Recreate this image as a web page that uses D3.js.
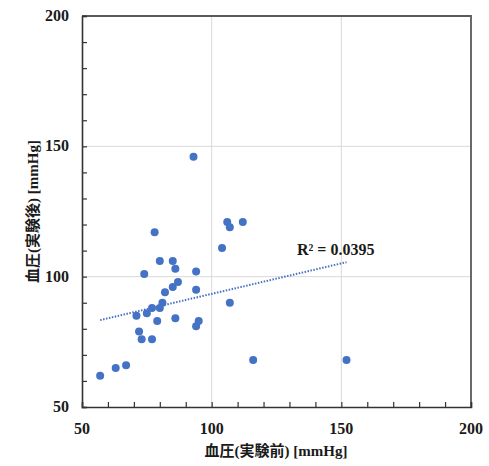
<!DOCTYPE html>
<html>
<head>
<meta charset="utf-8">
<script src="https://cdn.jsdelivr.net/npm/d3@7"></script>
<style>
  body { margin: 0; background: #fff; }
  svg { display: block; }
  .tick-label { font-family: "Liberation Serif", "DejaVu Serif", serif; font-weight: bold; font-size: 16px; fill: #1a1a1a; }
  .axis-title { font-family: "Liberation Serif", "Noto Sans CJK JP", serif; font-weight: bold; font-size: 15px; fill: #1a1a1a; }
</style>
</head>
<body>
<script>
// blood pressure before / after (mmHg)
var beforeBP = [57, 63, 67, 72, 73, 77, 71, 75, 77, 79, 80, 81, 82, 85, 87, 86, 74, 80, 85, 86,
  94, 94, 94, 95, 104, 107, 78, 93, 106, 107, 112, 116, 152];
var afterBP = [62, 65, 66, 79, 76, 76, 85, 86, 88, 83, 88, 90, 94, 96, 98, 84, 101, 106, 106, 103,
  102, 95, 81, 83, 111, 90, 117, 146, 121, 119, 121, 68, 68];

// linear trendline [slope, intercept] and its label
var trendCoef = [0.234, 70];
var trendLabel = 'R\u00B2 = 0.0395';

var axisTicks = [50, 100, 150, 200];
var minorTicks = d3.range(50, 201, 10);

var width = 489;
var height = 466;
var margin = {top: 16, right: 18, bottom: 59, left: 82};

var svg = d3.select('body').append('svg')
    .attr('width', width)
    .attr('height', height);

var x = d3.scaleLinear().domain([50, 200]).range([margin.left, width - margin.right]);
var y = d3.scaleLinear().domain([50, 200]).range([height - margin.bottom, margin.top]);

var plot = svg.append('g');

// gridlines (major only, inside the box)
plot.selectAll('line.gx').data(axisTicks.slice(1, -1)).enter().append('line')
    .attr('class', 'gx')
    .attr('x1', function(d) { return x(d); })
    .attr('x2', function(d) { return x(d); })
    .attr('y1', y(50))
    .attr('y2', y(200))
    .attr('stroke', '#d9d9d9')
    .attr('stroke-width', 1);
plot.selectAll('line.gy').data(axisTicks.slice(1, -1)).enter().append('line')
    .attr('class', 'gy')
    .attr('x1', x(50))
    .attr('x2', x(200))
    .attr('y1', function(d) { return y(d); })
    .attr('y2', function(d) { return y(d); })
    .attr('stroke', '#d9d9d9')
    .attr('stroke-width', 1);

// frame: top/right lighter, left/bottom dark
plot.append('path')
    .attr('d', 'M' + x(50) + ',' + y(200) + 'H' + x(200) + 'V' + y(50))
    .attr('fill', 'none')
    .attr('stroke', '#5a5a5a')
    .attr('stroke-width', 1.8);

// axes with inward ticks
var xAxis = d3.axisBottom(x).tickValues(minorTicks).tickSize(-5).tickFormat('');
var yAxis = d3.axisLeft(y).tickValues(minorTicks).tickSize(-5).tickFormat('');

var gx = svg.append('g').attr('transform', 'translate(0,' + y(50) + ')').call(xAxis);
var gy = svg.append('g').attr('transform', 'translate(' + x(50) + ',0)').call(yAxis);
[gx, gy].forEach(function(g) {
  g.select('.domain').attr('stroke', '#333').attr('stroke-width', 1.6);
  g.selectAll('.tick line').attr('stroke', '#333').attr('stroke-width', 1.2);
});

// tick labels
svg.selectAll('text.xl').data(axisTicks).enter().append('text')
    .attr('class', 'tick-label xl')
    .attr('x', function(d) { return x(d); })
    .attr('y', y(50) + 27)
    .attr('text-anchor', 'middle')
    .text(function(d) { return d; });
svg.selectAll('text.yl').data(axisTicks).enter().append('text')
    .attr('class', 'tick-label yl')
    .attr('x', x(50) - 13)
    .attr('y', function(d) { return y(d) + 5; })
    .attr('text-anchor', 'end')
    .text(function(d) { return d; });

// trendline over the data range
var xExt = d3.extent(beforeBP);
plot.append('line')
    .attr('x1', x(xExt[0]))
    .attr('y1', y(trendCoef[0] * xExt[0] + trendCoef[1]))
    .attr('x2', x(xExt[1]))
    .attr('y2', y(trendCoef[0] * xExt[1] + trendCoef[1]))
    .attr('stroke', '#4472c4')
    .attr('stroke-width', 2)
    .attr('stroke-dasharray', '1.5,1.5');

// points
plot.selectAll('circle').data(beforeBP).enter().append('circle')
    .attr('cx', function(d) { return x(d); })
    .attr('cy', function(d, i) { return y(afterBP[i]); })
    .attr('r', 4)
    .attr('fill', '#4472c4');

svg.append('text')
    .attr('class', 'tick-label')
    .attr('x', 297)
    .attr('y', 255)
    .style('font-size', '16px')
    .text(trendLabel);

// axis titles
svg.append('text')
    .attr('class', 'axis-title')
    .attr('x', 276)
    .attr('y', 456)
    .attr('text-anchor', 'middle')
    .text('血圧(実験前) [mmHg]');
svg.append('text')
    .attr('class', 'axis-title')
    .attr('transform', 'translate(38,' + ((y(50) + y(200)) / 2) + ') rotate(-90)')
    .attr('text-anchor', 'middle')
    .text('血圧(実験後) [mmHg]');
</script>
</body>
</html>
